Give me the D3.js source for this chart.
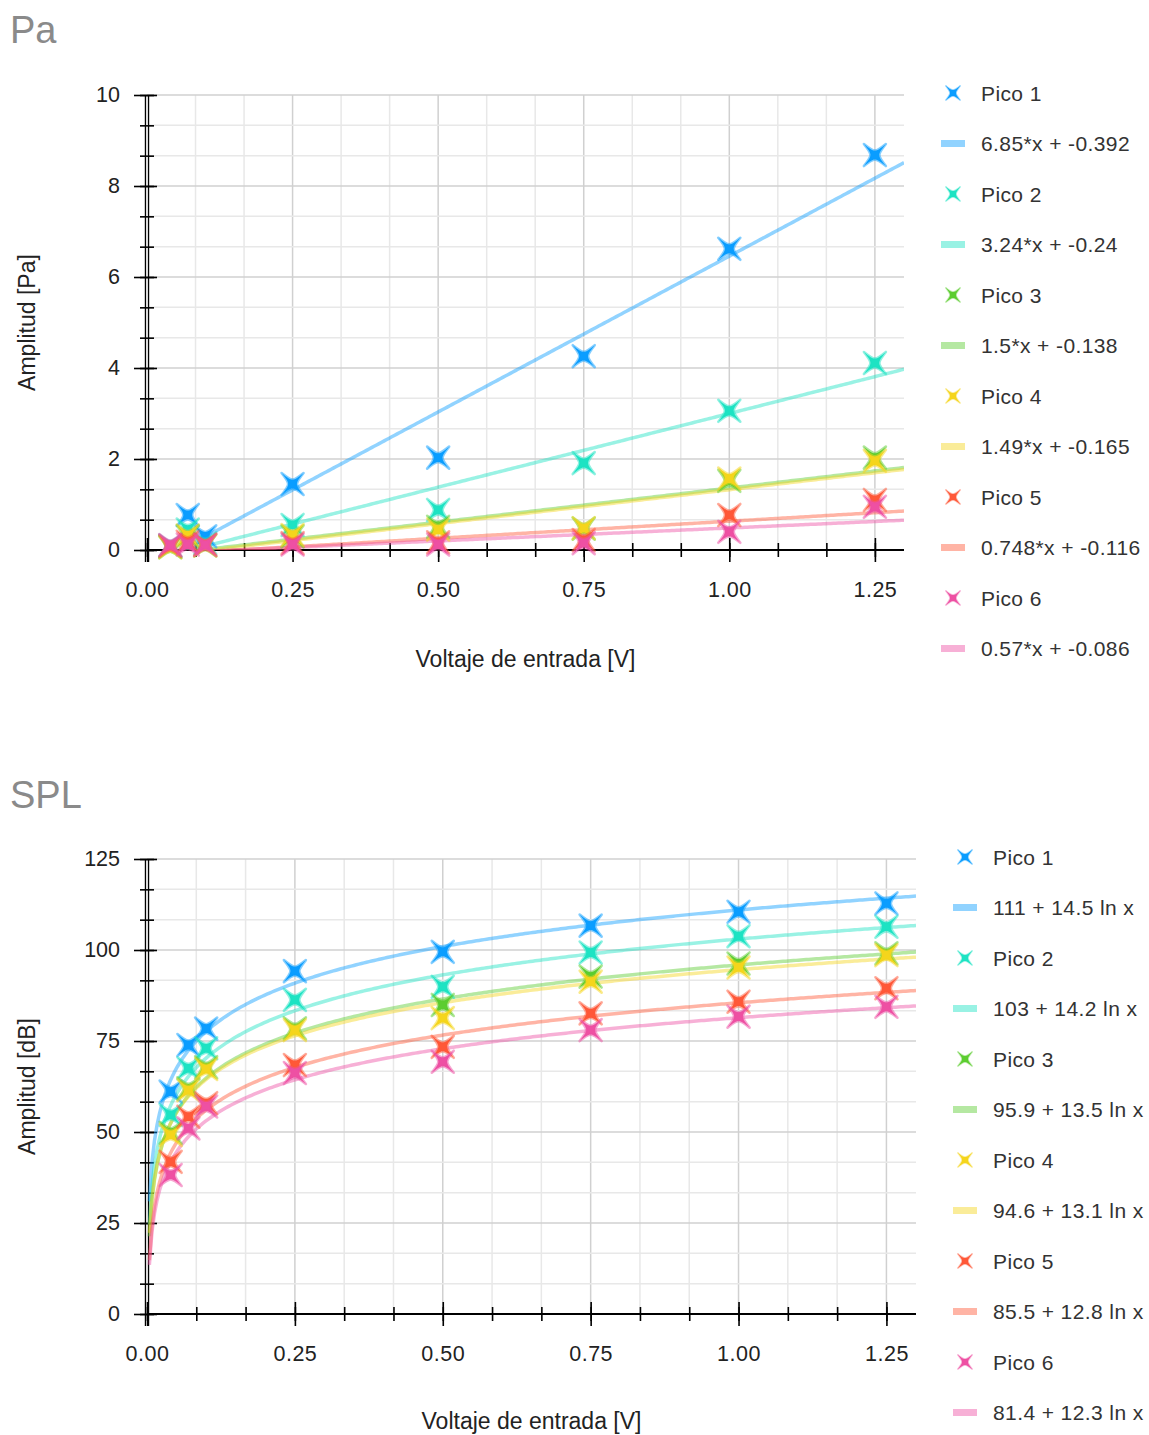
<!DOCTYPE html>
<html lang="es">
<head>
<meta charset="utf-8" />
<title>Pa / SPL</title>
<style>
  body { margin: 0; background: #fff; }
  svg text { font-family: "Liberation Sans", Arial, sans-serif; fill: #222; }
  .title { font-size: 38px; fill: #8a8a8a; }
  .axlabel { font-size: 23px; }
  .legend text { font-size: 21px; fill: #333; letter-spacing: 0.4px; }
</style>
<script src="https://cdn.jsdelivr.net/npm/d3@7"></script>
</head>
<body>
<script>
// input voltage for every measured point
var xVals = [0.04, 0.07, 0.1, 0.25, 0.5, 0.75, 1.0, 1.25];

// amplitude in Pa, one array per peak
var paPico1 = [0.10, 0.77, 0.30, 1.45, 2.03, 4.26, 6.62, 8.68];
var paPico2 = [0.08, 0.45, 0.15, 0.55, 0.88, 1.91, 3.06, 4.11];
var paPico3 = [0.06, 0.30, 0.10, 0.30, 0.51, 0.47, 1.52, 2.03];
var paPico4 = [0.06, 0.32, 0.10, 0.33, 0.45, 0.48, 1.57, 1.96];
var paPico5 = [0.09, 0.18, 0.12, 0.15, 0.17, 0.22, 0.77, 1.10];
var paPico6 = [0.11, 0.12, 0.11, 0.12, 0.12, 0.15, 0.40, 0.95];

// amplitude in dB
var splPico1 = [61.1, 73.9, 78.4, 94.2, 99.5, 106.7, 110.5, 112.8];
var splPico2 = [54.7, 67.5, 73.0, 86.3, 89.9, 99.3, 103.8, 106.4];
var splPico3 = [49.8, 62.0, 67.8, 78.5, 84.9, 92.7, 96.3, 99.1];
var splPico4 = [49.2, 61.5, 67.3, 78.0, 81.3, 91.3, 95.2, 98.6];
var splPico5 = [41.8, 54.2, 57.9, 68.4, 73.4, 82.6, 85.8, 89.5];
var splPico6 = [38.2, 51.0, 57.0, 66.2, 69.3, 78.0, 81.7, 84.4];

// fit coefficients shown in the legends
var paSlope = [6.85, 3.24, 1.5, 1.49, 0.748, 0.57];
var paIntercept = [-0.392, -0.24, -0.138, -0.165, -0.116, -0.086];
var splA = [111, 103, 95.9, 94.6, 85.5, 81.4];
var splB = [14.5, 14.2, 13.5, 13.1, 12.8, 12.3];

var seriesNames = ['Pico 1', 'Pico 2', 'Pico 3', 'Pico 4', 'Pico 5', 'Pico 6'];
var paFitLabels = ['6.85*x + -0.392', '3.24*x + -0.24', '1.5*x + -0.138',
                   '1.49*x + -0.165', '0.748*x + -0.116', '0.57*x + -0.086'];
var splFitLabels = ['111 + 14.5 ln x', '103 + 14.2 ln x', '95.9 + 13.5 ln x',
                    '94.6 + 13.1 ln x', '85.5 + 12.8 ln x', '81.4 + 12.3 ln x'];

var xTicks = [0, 0.25, 0.5, 0.75, 1.0, 1.25];
var paTicks = [0, 2, 4, 6, 8, 10];
var splTicks = [0, 25, 50, 75, 100, 125];

var colors = ['#0a9dff', '#1de3c3', '#5ccd30', '#f5d51c', '#ff5838', '#ee50a3'];

var width = 1149, height = 1435;
var svg = d3.select('body').append('svg')
    .attr('width', width)
    .attr('height', height);

// concave four-point star, like the scatter markers
function star(r) {
    var c = 0.2 * r;
    return 'M' + (-r) + ',' + (-r) +
        'C0,' + (-c) + ' 0,' + (-c) + ' ' + r + ',' + (-r) +
        'C' + c + ',0 ' + c + ',0 ' + r + ',' + r +
        'C0,' + c + ' 0,' + c + ' ' + (-r) + ',' + r +
        'C' + (-c) + ',0 ' + (-c) + ',0 ' + (-r) + ',' + (-r) + 'Z';
}

function thirds(max, step) {
    var out = [];
    for (var i = 0; i * step / 3 <= max + 1e-9; i++) out.push(i * step / 3);
    return out;
}

function drawPanel(opt) {
    var x = d3.scaleLinear().domain([0, 1.3]).range([147, opt.xRight]);
    var y = d3.scaleLinear().domain([0, opt.yMax]).range([opt.yBottom, opt.yTop]);
    var g = svg.append('g');

    svg.append('text').attr('class', 'title')
        .attr('x', 10).attr('y', opt.titleY).text(opt.title);

    var xMinor = thirds(1.3, 0.25);
    var yMinor = thirds(opt.yMax, opt.yMax / 5);

    // grid
    g.append('g').selectAll('line').data(xMinor).enter().append('line')
        .attr('x1', function(d) { return x(d); }).attr('x2', function(d) { return x(d); })
        .attr('y1', y(opt.yMax)).attr('y2', y(0))
        .attr('stroke', function(d, i) { return i % 3 === 0 ? '#d0d0d0' : '#e8e8e8'; })
        .attr('stroke-width', 1.5);
    g.append('g').selectAll('line').data(yMinor).enter().append('line')
        .attr('x1', x(0)).attr('x2', x(1.3))
        .attr('y1', function(d) { return y(d); }).attr('y2', function(d) { return y(d); })
        .attr('stroke', function(d, i) { return i % 3 === 0 ? '#d0d0d0' : '#e8e8e8'; })
        .attr('stroke-width', 1.5);

    // axes
    var xMinorAxis = g.append('g').attr('transform', 'translate(0,' + y(0) + ')')
        .call(d3.axisBottom(x).tickValues(xMinor).tickSize(7).tickFormat(''));
    xMinorAxis.selectAll('.tick line').attr('y1', -7).attr('stroke-width', 1.6);
    xMinorAxis.select('.domain').remove();

    var xAxis = g.append('g').attr('transform', 'translate(0,' + y(0) + ')')
        .call(d3.axisBottom(x).tickValues(xTicks).tickSize(12).tickPadding(20)
            .tickFormat(d3.format('.2f')));
    xAxis.selectAll('.tick line').attr('y1', -12).attr('stroke-width', 1.6);
    xAxis.select('.domain').remove();
    xAxis.selectAll('.tick text').style('font-family', 'Liberation Sans, Arial, sans-serif')
        .style('font-size', '21.5px').style('letter-spacing', '0.5px').attr('fill', '#222');

    var yMinorAxis = g.append('g').attr('transform', 'translate(' + x(0) + ',0)')
        .call(d3.axisLeft(y).tickValues(yMinor).tickSize(7).tickFormat(''));
    yMinorAxis.selectAll('.tick line').attr('x1', 7).attr('stroke-width', 1.6);
    yMinorAxis.select('.domain').remove();

    var yAxis = g.append('g').attr('transform', 'translate(' + x(0) + ',0)')
        .call(d3.axisLeft(y).tickValues(opt.yTicks).tickSize(13).tickPadding(14));
    yAxis.selectAll('.tick line').attr('x1', 10).attr('stroke-width', 1.6);
    yAxis.select('.domain').remove();
    yAxis.selectAll('.tick text').style('font-family', 'Liberation Sans, Arial, sans-serif')
        .style('font-size', '21.5px').attr('fill', '#222');

    g.append('line').attr('x1', x(0)).attr('x2', x(1.3))
        .attr('y1', y(0)).attr('y2', y(0)).attr('stroke', '#000').attr('stroke-width', 1.8);
    [-1.6, 1.6].forEach(function(dx) {
        g.append('line').attr('x1', x(0) + dx).attr('x2', x(0) + dx)
            .attr('y1', y(opt.yMax)).attr('y2', y(0) + 12)
            .attr('stroke', '#000').attr('stroke-width', 1.2);
    });

    // axis titles
    svg.append('text').attr('class', 'axlabel')
        .attr('text-anchor', 'middle')
        .attr('x', (x(0) + x(1.3)) / 2).attr('y', opt.xLabelY)
        .text('Voltaje de entrada [V]');
    svg.append('text').attr('class', 'axlabel')
        .attr('text-anchor', 'middle')
        .attr('transform', 'translate(35,' + (y(0) + y(opt.yMax)) / 2 + ') rotate(-90)')
        .text(opt.yLabel);

    // fit lines
    var clipId = 'clip' + opt.title;
    svg.append('clipPath').attr('id', clipId).append('rect')
        .attr('x', x(0)).attr('y', y(opt.yMax))
        .attr('width', x(1.3) - x(0)).attr('height', y(0) - y(opt.yMax));
    var line = d3.line().x(function(d) { return x(d[0]); }).y(function(d) { return y(d[1]); });
    var fits = g.append('g').attr('clip-path', 'url(#' + clipId + ')');
    opt.fits.forEach(function(f, i) {
        var pts = d3.range(0, 301).map(function(k) {
            var xv = opt.fitStart + (1.3 - opt.fitStart) * k / 300;
            return [xv, f(xv)];
        });
        fits.append('path').datum(pts)
            .attr('d', line)
            .attr('fill', 'none')
            .attr('stroke', colors[i])
            .attr('stroke-opacity', 0.45)
            .attr('stroke-width', 3.5);
    });

    // markers
    opt.series.forEach(function(vals, i) {
        g.append('g').selectAll('path').data(vals).enter().append('path')
            .attr('d', star(11))
            .attr('transform', function(d, j) {
                return 'translate(' + x(xVals[j]) + ',' + y(d) + ')';
            })
            .attr('fill', colors[i])
            .attr('stroke', colors[i])
            .attr('stroke-opacity', 0.5)
            .attr('stroke-linejoin', 'round')
            .attr('stroke-width', 2.6);
    });

    // legend
    var leg = svg.append('g').attr('class', 'legend');
    seriesNames.forEach(function(name, i) {
        var y0 = opt.legendTop + i * 2 * opt.legendStep;
        var y1 = y0 + opt.legendStep;
        leg.append('path').attr('d', star(7.5))
            .attr('transform', 'translate(' + opt.legendX + ',' + y0 + ')')
            .attr('fill', colors[i])
            .attr('stroke', colors[i]).attr('stroke-opacity', 0.4).attr('stroke-width', 1.5);
        leg.append('text').attr('x', opt.legendX + 28).attr('y', y0 + 7.5).text(name);
        leg.append('rect').attr('x', opt.legendX - 12).attr('y', y1 - 3.5)
            .attr('width', 24).attr('height', 7)
            .attr('fill', colors[i]).attr('fill-opacity', 0.45);
        leg.append('text').attr('x', opt.legendX + 28).attr('y', y1 + 7.5).text(opt.fitLabels[i]);
    });
}

drawPanel({
    title: 'Pa', titleY: 43,
    xRight: 904, yTop: 95, yBottom: 550, yMax: 10, yTicks: paTicks,
    yLabel: 'Amplitud [Pa]', xLabelY: 667,
    series: [paPico1, paPico2, paPico3, paPico4, paPico5, paPico6],
    fits: paSlope.map(function(m, i) { return function(v) { return m * v + paIntercept[i]; }; }),
    fitStart: 0,
    fitLabels: paFitLabels,
    legendX: 953, legendTop: 93, legendStep: 50.5
});

drawPanel({
    title: 'SPL', titleY: 808,
    xRight: 916, yTop: 859, yBottom: 1314, yMax: 125, yTicks: splTicks,
    yLabel: 'Amplitud [dB]', xLabelY: 1429,
    series: [splPico1, splPico2, splPico3, splPico4, splPico5, splPico6],
    fits: splA.map(function(a, i) { return function(v) { return a + splB[i] * Math.log(v); }; }),
    fitStart: 0.004,
    fitLabels: splFitLabels,
    legendX: 965, legendTop: 857, legendStep: 50.5
});
</script>
</body>
</html>
